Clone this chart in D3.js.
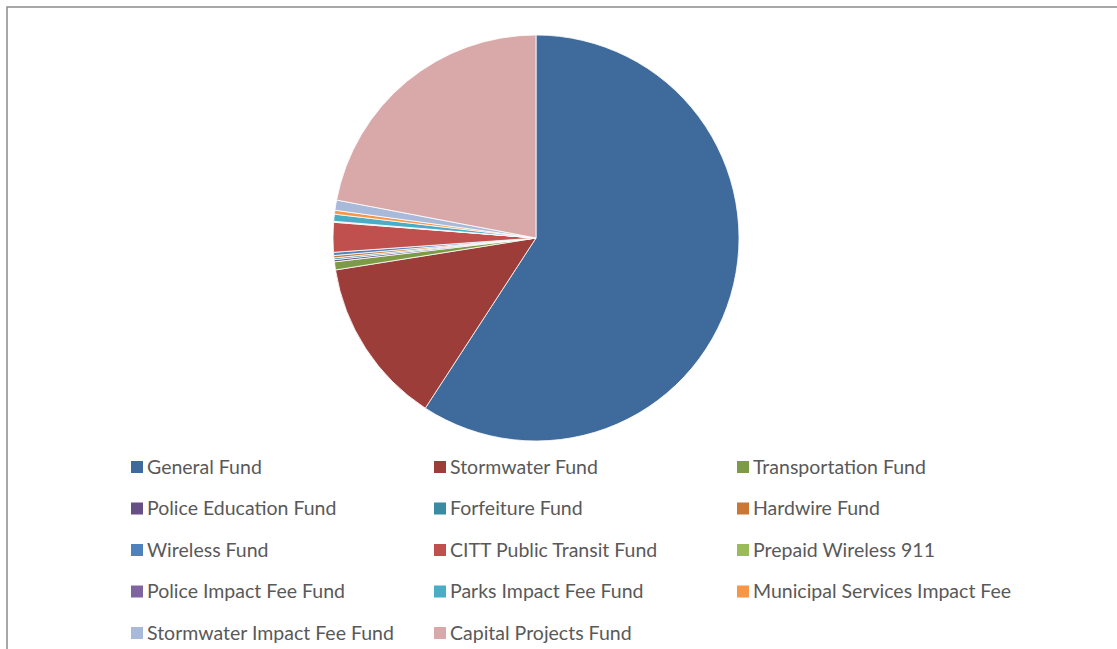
<!DOCTYPE html>
<html lang="en">
<head>
    <meta charset="UTF-8">
    <title>Fund Shares</title>
    <style>
        body {
            margin: 0;
            padding: 0;
            background: #fff;
        }
        #chart {
            width: 1117px;
            height: 649px;
        }
        .slice {
            stroke: #fff;
            stroke-width: 0.8;
        }
        .legend text {
            font-family: Lato, "Open Sans", sans-serif;
            font-size: 19.5px;
            fill: #595959;
        }
    </style>
</head>
<body>
    <div id="chart"></div>

    <script src="https://d3js.org/d3.v7.min.js"></script>
    <script>
        // fondovi i udjeli (procjena iz slike, %)
        const funds = [
            "General Fund", "Stormwater Fund", "Transportation Fund",
            "Police Education Fund", "Forfeiture Fund", "Hardwire Fund",
            "Wireless Fund", "CITT Public Transit Fund", "Prepaid Wireless 911",
            "Police Impact Fee Fund", "Parks Impact Fee Fund", "Municipal Services Impact Fee",
            "Stormwater Impact Fee Fund", "Capital Projects Fund"
        ];
        const shares = [59.17, 13.3, 0.64, 0.17, 0.14, 0.19, 0.25, 2.36, 0.05, 0.03, 0.56, 0.31, 0.81, 22.0];
        const colors = [
            "#3f6a9c", "#9d3d3a", "#7d9a47", "#664f85", "#3a8ba1", "#cb7733", "#4f81bd",
            "#c0504d", "#9bbb59", "#8064a2", "#4bacc6", "#f79646", "#a8b9d9", "#d9a9a9"
        ];

        const width = 1117, height = 649;
        const cx = 536, cy = 238, radius = 203;

        const svg = d3.select("#chart")
            .append("svg")
            .attr("width", width)
            .attr("height", height);

        // okvir
        svg.append("rect")
            .attr("x", 7)
            .attr("y", 7)
            .attr("width", width + 20)
            .attr("height", height + 20)
            .attr("fill", "none")
            .attr("stroke", "#8c8c8c")
            .attr("stroke-width", 1.5);

        const pie = d3.pie().sort(null).value(d => d);
        const arc = d3.arc().innerRadius(0).outerRadius(radius);

        const pieGroup = svg.append("g")
            .attr("transform", `translate(${cx},${cy})`);

        pieGroup.selectAll(".slice")
            .data(pie(shares))
            .enter().append("path")
            .attr("class", "slice")
            .attr("d", arc)
            .attr("fill", (d, i) => colors[i]);

        // legenda - 3 stupca
        const colX = d3.scaleOrdinal().domain([0, 1, 2]).range([131, 434, 737]);
        const rowY = d3.scaleLinear().domain([0, 4]).range([467, 633]);

        const legend = svg.append("g").attr("class", "legend");

        const items = legend.selectAll(".item")
            .data(funds)
            .enter().append("g")
            .attr("class", "item")
            .attr("transform", (d, i) => `translate(${colX(i % 3)},${rowY(Math.floor(i / 3))})`);

        items.append("rect")
            .attr("x", 0)
            .attr("y", -6)
            .attr("width", 12)
            .attr("height", 12)
            .attr("fill", (d, i) => colors[i]);

        items.append("text")
            .attr("x", 16)
            .attr("y", 0)
            .attr("dy", "0.35em")
            .text(d => d);
    </script>
</body>
</html>
